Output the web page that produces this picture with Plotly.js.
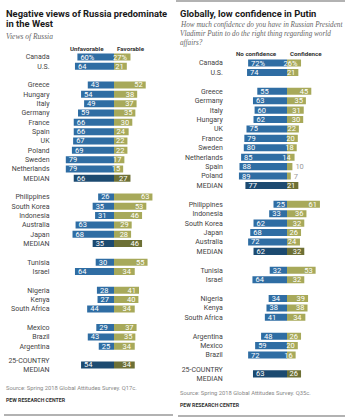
<!DOCTYPE html>
<html>
<head>
<meta charset="utf-8">
<script src="https://cdn.plot.ly/plotly-3.0.1.min.js"></script>
<style>html,body{margin:0;padding:0;background:#fff;}#chart{width:350px;height:417px;}</style>
</head>
<body>
<div id="chart"></div>
<script>
// ---- Left panel: Views of Russia ----
const leftCountries = ["Canada","U.S.",
  "Greece","Hungary","Italy","Germany","France","Spain","UK","Poland","Sweden","Netherlands","MEDIAN",
  "Philippines","South Korea","Indonesia","Australia","Japan","MEDIAN",
  "Tunisia","Israel",
  "Nigeria","Kenya","South Africa",
  "Mexico","Brazil","Argentina",
  "25-COUNTRY<br>MEDIAN"];
const leftGroups = [0,0, 1,1,1,1,1,1,1,1,1,1,1, 2,2,2,2,2,2, 3,3, 4,4,4, 5,5,5, 6];
const unfavorable = [60,64, 43,54,49,59,66,66,67,69,79,79,66, 26,35,31,63,68,35, 30,64, 28,27,44, 29,43,25, 54];
const favorable   = [27,21, 52,38,37,35,30,24,22,22,17,15,27, 63,53,46,29,28,46, 55,34, 41,40,34, 37,35,34, 34];

// ---- Right panel: Confidence in Putin ----
const rightCountries = ["Canada","U.S.",
  "Greece","Germany","Italy","Hungary","UK","France","Sweden","Netherlands","Spain","Poland","MEDIAN",
  "Philippines","Indonesia","South Korea","Japan","Australia","MEDIAN",
  "Tunisia","Israel",
  "Nigeria","Kenya","South Africa",
  "Argentina","Mexico","Brazil",
  "25-COUNTRY<br>MEDIAN"];
const rightGroups = [0,0, 1,1,1,1,1,1,1,1,1,1,1, 2,2,2,2,2,2, 3,3, 4,4,4, 5,5,5, 6];
const noConfidence = [72,74, 55,63,60,62,75,79,80,85,88,89,77, 25,33,62,68,72,62, 32,64, 34,38,41, 48,59,72, 63];
const confidence   = [26,21, 45,35,31,30,22,20,18,14,10,7,21, 61,36,32,26,24,32, 53,32, 39,38,34, 26,20,16, 26];

// ---- styling ----
const W = 350, H = 417;
const FONT = "Roboto,'Liberation Sans',Arial,sans-serif";
const SERIF = "'Liberation Serif','DejaVu Serif',Georgia,serif";
const BLUE = "#2f6da3", BLUE_D = "#1c4a70", GREEN = "#a7a95a", GREEN_D = "#6d7035";

function isMedian(n){ return n.indexOf("MEDIAN") >= 0; }
function slots(groups){ return groups.map((g,i)=>i+g); }
function labels(vals){ return vals.map((v,i)=> i===0 ? v+"%" : String(v)); }

function makeTraces(names, groups, neg, pos, xa, ya){
  const y = slots(groups);
  const common = {type:"bar", orientation:"h", y:y, xaxis:xa, yaxis:ya,
    hoverinfo:"skip", textangle:0, constraintext:"none", cliponaxis:false,
    insidetextanchor:"end", showlegend:false,
    textfont:{family:FONT, size:7.5},
    insidetextfont:{family:FONT, size:7.5, color:"#ffffff"},
    outsidetextfont:{family:FONT, size:7.5, color:"#999999"}};
  return [
    Object.assign({}, common, {x: neg.map(v=>-v), text: labels(neg),
      textposition: neg.map(v=> v<12 ? "outside":"inside"),
      marker:{color: names.map(n=> isMedian(n)?BLUE_D:BLUE), line:{width:0}}}),
    Object.assign({}, common, {x: pos, text: labels(pos),
      textposition: pos.map(v=> v<12 ? "outside":"inside"),
      marker:{color: names.map(n=> isMedian(n)?GREEN_D:GREEN), line:{width:0}}})
  ];
}

const traces = [].concat(
  makeTraces(leftCountries, leftGroups, unfavorable, favorable, "x", "y"),
  makeTraces(rightCountries, rightGroups, noConfidence, confidence, "x2", "y2")
);

// axis geometry in pixels
function xGeom(zeroPx, scale, lo, hi){
  return {domain:[(zeroPx+lo*scale)/W, (zeroPx+hi*scale)/W], range:[lo,hi]};
}
function yRange(firstPx, step){
  return [(H-firstPx)/step, -firstPx/step];
}
const gL = xGeom(114, 0.61, -104, 75);
const gR = xGeom(287, 0.54, -117, 75);

function xAxis(g, anchor){
  return {domain:g.domain, range:g.range, anchor:anchor, showgrid:false, zeroline:false,
    showticklabels:false, ticks:"", showline:false, fixedrange:true};
}
function yAxis(names, groups, rng, anchor){
  return {domain:[0,1], range:rng, anchor:anchor, tickmode:"array", tickvals:slots(groups),
    ticktext:names, ticks:"", showgrid:false, zeroline:false, showline:false,
    tickfont:{family:FONT, size:7, color:"#444"}, fixedrange:true};
}

function ann(text, px, py, opts){
  return Object.assign({text:text, x:px/W, y:1-py/H, xref:"paper", yref:"paper",
    showarrow:false, xanchor:"left", yanchor:"middle", align:"left",
    font:{family:FONT, size:8, color:"#222"}}, opts||{});
}
const TF = {family:FONT, size:9.4, color:"#1a1a1a"};
const HF = {family:FONT, size:6.2, color:"#333"};
const SF = {family:FONT, size:5.8, color:"#888"};
const PF = {family:FONT, size:5.2, color:"#333"};
const QF = {family:SERIF, size:7.2, color:"#666"};

const annotations = [
  ann("<b>Negative views of Russia predominate</b>", 4, 13, {font:TF}),
  ann("<b>in the West</b>", 4, 24, {font:TF}),
  ann("<i>Views of Russia</i>", 4, 36, {font:{family:SERIF, size:7.5, color:"#666"}}),
  ann("<b>Unfavorable</b>", 106, 49, {xanchor:"right", font:HF}),
  ann("<b>Favorable</b>", 115, 49, {font:HF}),
  ann("<b>Globally, low confidence in Putin</b>", 178, 13, {font:TF}),
  ann("<i>How much confidence do you have in Russian President</i>", 178, 25, {font:QF}),
  ann("<i>Vladimir Putin to do the right thing regarding world</i>", 178, 34, {font:QF}),
  ann("<i>affairs?</i>", 178, 43, {font:QF}),
  ann("<b>No confidence</b>", 279, 54, {xanchor:"right", font:HF}),
  ann("<b>Confidence</b>", 288, 54, {font:HF}),
  ann("Source: Spring 2018 Global Attitudes Survey. Q17c.", 4, 388, {font:SF}),
  ann("<b>PEW RESEARCH CENTER</b>", 4, 400, {font:PF}),
  ann("Source: Spring 2018 Global Attitudes Survey. Q35c.", 178, 393, {font:SF}),
  ann("<b>PEW RESEARCH CENTER</b>", 178, 405, {font:PF})
];

function line(x0,x1,py,color,w){
  return {type:"line", xref:"paper", yref:"paper", x0:x0/W, x1:x1/W, y0:1-py/H, y1:1-py/H,
    line:{color:color, width:w}};
}

const layout = {
  width:W, height:H, margin:{l:0,r:0,t:0,b:0},
  paper_bgcolor:"#fff", plot_bgcolor:"rgba(0,0,0,0)",
  barmode:"relative", bargap:0.25,
  xaxis: xAxis(gL, "y"), yaxis: yAxis(leftCountries, leftGroups, yRange(57, 9.33), "x"),
  xaxis2: xAxis(gR, "y2"), yaxis2: yAxis(rightCountries, rightGroups, yRange(63, 9.42), "x2"),
  annotations: annotations,
  shapes: [line(176,345,1,"#666",1.2), line(4,173,415,"#999",1.5), line(178,345,416,"#999",1.5)],
  font:{family:FONT}
};

Plotly.newPlot("chart", traces, layout, {displayModeBar:false, staticPlot:true});
</script>
</body>
</html>
